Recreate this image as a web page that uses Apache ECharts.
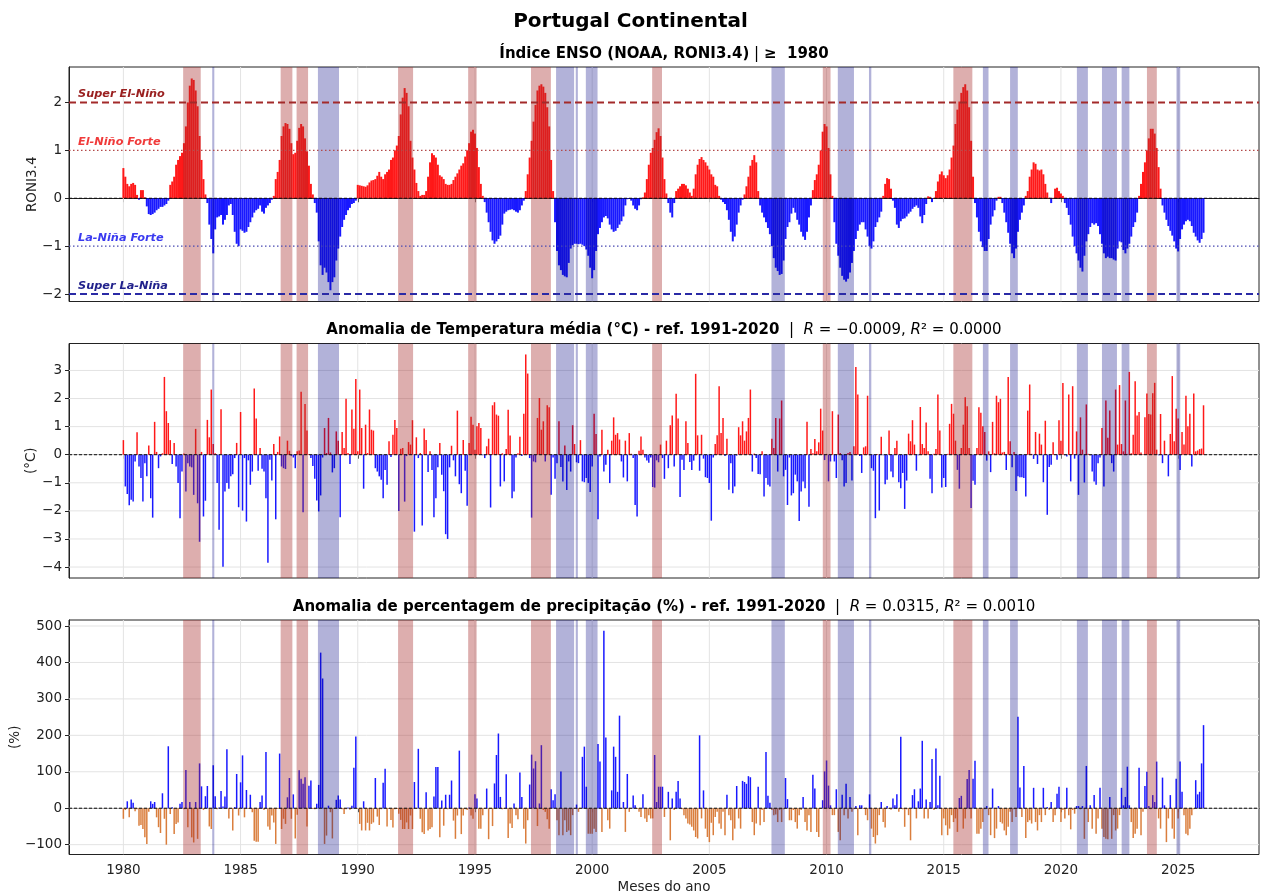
<!DOCTYPE html>
<html>
<head>
<meta charset="utf-8">
<title>Portugal Continental</title>
<script src="https://cdn.jsdelivr.net/npm/echarts@6/dist/echarts.min.js"></script>
<style>
  html, body { margin: 0; padding: 0; background: #fff; }
  #chart { width: 1261px; height: 893px; }
</style>
</head>
<body>
<div id="chart"></div>
<script>
// monthly series, Jan 1980 .. Feb 2026
const startYear = 1980

const roni = [
  /*1980*/ 0.63,0.45,0.3,0.25,0.3,0.32,0.28,0.07,-0.03,0.17,0.17,0.02,
  /*1981*/ -0.17,-0.33,-0.35,-0.33,-0.3,-0.25,-0.22,-0.18,-0.18,-0.15,-0.12,-0.05,
  /*1982*/ 0.28,0.35,0.45,0.7,0.8,0.88,0.95,1.15,1.5,2.0,2.35,2.5,
  /*1983*/ 2.47,2.25,1.92,1.3,0.8,0.4,0.08,-0.1,-0.55,-0.85,-1.15,-0.65,
  /*1984*/ -0.4,-0.38,-0.35,-0.55,-0.45,-0.35,-0.15,-0.12,-0.35,-0.7,-0.95,-1.0,
  /*1985*/ -0.65,-0.68,-0.72,-0.7,-0.6,-0.5,-0.4,-0.3,-0.25,-0.22,-0.15,-0.28,
  /*1986*/ -0.32,-0.2,-0.15,-0.1,-0.03,0.05,0.4,0.55,0.8,1.3,1.5,1.57,
  /*1987*/ 1.55,1.45,1.15,0.92,0.95,1.2,1.47,1.55,1.5,1.25,0.98,0.68,
  /*1988*/ 0.3,0.08,-0.1,-0.3,-0.9,-1.4,-1.6,-1.45,-1.55,-1.75,-1.92,-1.75,
  /*1989*/ -1.65,-1.3,-1.05,-0.8,-0.6,-0.45,-0.35,-0.25,-0.2,-0.12,-0.1,-0.05,
  /*1990*/ 0.28,0.27,0.26,0.25,0.24,0.27,0.33,0.37,0.38,0.4,0.47,0.55,
  /*1991*/ 0.45,0.4,0.5,0.55,0.6,0.8,0.85,1.0,1.1,1.3,1.75,2.1,
  /*1992*/ 2.3,2.2,1.92,1.2,0.85,0.6,0.32,0.15,0.05,0.07,0.07,0.15,
  /*1993*/ 0.45,0.75,0.94,0.9,0.85,0.7,0.48,0.45,0.4,0.3,0.28,0.28,
  /*1994*/ 0.3,0.38,0.45,0.52,0.6,0.68,0.73,0.87,1.0,1.15,1.39,1.43,
  /*1995*/ 1.35,1.05,0.65,0.3,0.05,-0.08,-0.3,-0.5,-0.7,-0.88,-0.95,-0.9,
  /*1996*/ -0.85,-0.78,-0.55,-0.32,-0.28,-0.25,-0.24,-0.23,-0.25,-0.28,-0.3,-0.25,
  /*1997*/ -0.15,-0.05,0.15,0.5,0.85,1.2,1.6,1.95,2.25,2.35,2.38,2.33,
  /*1998*/ 2.2,1.9,1.5,0.8,0.15,-0.5,-1.1,-1.4,-1.5,-1.6,-1.63,-1.65,
  /*1999*/ -1.35,-1.05,-0.98,-0.95,-0.95,-0.96,-0.95,-0.97,-1.0,-1.07,-1.2,-1.45,
  /*2000*/ -1.67,-1.5,-1.1,-0.75,-0.62,-0.5,-0.4,-0.37,-0.42,-0.55,-0.65,-0.7,
  /*2001*/ -0.68,-0.62,-0.55,-0.48,-0.38,-0.15,-0.02,-0.01,-0.05,-0.15,-0.22,-0.25,
  /*2002*/ -0.15,-0.02,0.02,0.12,0.4,0.7,0.95,1.05,1.22,1.38,1.46,1.3,
  /*2003*/ 0.85,0.4,0.1,-0.1,-0.3,-0.4,-0.1,0.15,0.2,0.25,0.3,0.3,
  /*2004*/ 0.27,0.2,0.12,0.05,0.2,0.5,0.7,0.82,0.86,0.8,0.75,0.68,
  /*2005*/ 0.6,0.5,0.45,0.28,0.25,0.05,-0.03,-0.08,-0.12,-0.25,-0.45,-0.7,
  /*2006*/ -0.9,-0.8,-0.55,-0.3,-0.15,-0.03,0.08,0.25,0.45,0.68,0.8,0.9,
  /*2007*/ 0.75,0.15,-0.15,-0.3,-0.4,-0.5,-0.62,-0.75,-1.0,-1.25,-1.45,-1.52,
  /*2008*/ -1.6,-1.58,-1.3,-0.85,-0.6,-0.5,-0.32,-0.2,-0.3,-0.45,-0.55,-0.7,
  /*2009*/ -0.8,-0.87,-0.7,-0.4,-0.15,0.17,0.38,0.5,0.7,1.0,1.39,1.55,
  /*2010*/ 1.5,1.05,0.5,0.05,-0.5,-0.95,-1.2,-1.45,-1.62,-1.7,-1.74,-1.68,
  /*2011*/ -1.55,-1.35,-1.1,-0.85,-0.68,-0.55,-0.5,-0.5,-0.65,-0.8,-1.0,-1.05,
  /*2012*/ -0.9,-0.6,-0.5,-0.4,-0.28,0.05,0.3,0.42,0.4,0.2,-0.05,-0.2,
  /*2013*/ -0.55,-0.62,-0.48,-0.43,-0.42,-0.38,-0.32,-0.28,-0.22,-0.18,-0.15,-0.2,
  /*2014*/ -0.38,-0.52,-0.35,-0.12,0.04,0.03,-0.08,0.01,0.15,0.35,0.5,0.56,
  /*2015*/ 0.48,0.42,0.48,0.6,0.85,1.1,1.55,1.85,2.02,2.2,2.32,2.38,
  /*2016*/ 2.25,1.9,1.2,0.45,-0.1,-0.4,-0.7,-0.9,-1.02,-1.1,-1.1,-0.85,
  /*2017*/ -0.55,-0.38,-0.25,-0.05,0.03,0.03,-0.1,-0.3,-0.5,-0.72,-0.95,-1.15,
  /*2018*/ -1.25,-1.05,-0.7,-0.45,-0.3,-0.15,0.05,0.15,0.45,0.6,0.75,0.72,
  /*2019*/ 0.6,0.58,0.6,0.5,0.3,0.12,0.01,-0.1,0.01,0.2,0.22,0.15,
  /*2020*/ 0.1,0.05,-0.1,-0.2,-0.35,-0.55,-0.8,-1.0,-1.15,-1.3,-1.45,-1.53,
  /*2021*/ -1.2,-0.9,-0.75,-0.6,-0.52,-0.55,-0.52,-0.58,-0.75,-0.95,-1.15,-1.25,
  /*2022*/ -1.22,-1.25,-1.25,-1.28,-1.3,-1.05,-0.9,-0.92,-1.08,-1.15,-1.05,-0.95,
  /*2023*/ -0.8,-0.6,-0.5,-0.3,0.05,0.3,0.55,0.75,1.0,1.25,1.45,1.45,
  /*2024*/ 1.35,1.05,0.65,0.2,-0.15,-0.3,-0.45,-0.58,-0.68,-0.78,-0.9,-1.05,
  /*2025*/ -1.11,-0.85,-0.65,-0.55,-0.48,-0.45,-0.48,-0.58,-0.72,-0.8,-0.88,-0.93,
  /*2026*/ -0.85,-0.72
]

const tempAnom = [
  /*1980*/ 0.52,-1.13,-1.4,-1.8,-1.6,-1.67,-0.24,0.8,-0.42,-0.83,-1.67,-0.3,
  /*1981*/ -0.77,0.33,-1.55,-2.24,1.17,0.1,-0.48,-0.06,0.05,2.77,1.55,1.13,
  /*1982*/ 0.52,-0.33,0.42,-0.42,-1.01,-2.26,-0.6,0.04,-1.31,-0.3,-0.42,-0.45,
  /*1983*/ -1.43,0.92,-1.73,-3.1,0.1,-2.2,-1.64,1.24,0.62,2.32,0.38,0.05,
  /*1984*/ -1.01,-2.67,1.62,-3.99,-1.31,-1.01,-1.21,-0.77,-0.7,-0.12,0.42,-1.87,
  /*1985*/ 1.52,-1.99,-0.12,-2.38,-0.2,-1.07,-0.6,2.36,1.29,-0.57,0.24,-0.5,
  /*1986*/ -0.6,-1.55,-3.85,-0.18,-0.92,0.38,-2.3,0.1,0.65,-0.42,-0.48,-0.51,
  /*1987*/ 0.5,0.14,-0.05,-0.1,-0.48,0.12,0.15,2.24,-2.05,1.81,0.86,0.02,
  /*1988*/ -0.12,-0.4,-0.86,-1.63,-2.02,-1.45,-0.1,0.95,0.06,1.31,0.08,-0.63,
  /*1989*/ -0.48,0.83,0.5,-2.23,0.81,0.24,1.99,0.06,-0.33,1.61,0.92,2.7,
  /*1990*/ 0.12,2.32,0.95,-1.21,1.07,0.06,1.61,0.89,0.86,-0.48,-0.6,-0.77,
  /*1991*/ -0.89,-1.55,-0.54,-1.07,0.48,-0.08,0.71,1.24,0.95,-2.0,0.21,0.24,
  /*1992*/ -1.67,-0.05,0.45,0.36,1.23,-2.74,0.62,-0.12,0.06,-2.52,0.93,0.52,
  /*1993*/ -0.62,0.12,-0.54,-2.23,-1.55,-0.45,0.42,-0.71,-1.3,-2.83,-3.0,-0.45,
  /*1994*/ 0.32,-0.2,-0.77,1.57,-1.05,-1.37,0.52,-0.57,-1.82,0.42,1.35,1.07,
  /*1995*/ 0.18,1.01,1.13,0.95,-0.02,-0.12,0.3,0.57,-1.88,1.76,1.87,1.43,
  /*1996*/ 1.39,-1.13,0.05,-0.95,0.2,1.6,0.68,-1.55,-1.31,-0.1,0.05,0.64,
  /*1997*/ -0.05,1.46,3.57,2.89,-0.12,-2.24,-0.24,-0.27,1.31,2.02,0.89,1.19,
  /*1998*/ -0.24,1.76,1.69,-1.43,-0.1,-0.86,-0.3,1.19,-0.44,-0.95,0.33,-1.26,
  /*1999*/ -0.24,-0.6,1.05,0.38,-0.27,-0.3,0.52,-0.95,-0.98,-0.83,-1.01,-1.33,
  /*2000*/ -0.42,1.46,0.74,-2.3,-0.06,0.89,-0.6,-0.36,0.18,-1.01,0.5,1.33,
  /*2001*/ 0.71,0.77,0.54,-0.24,-0.81,0.5,-0.95,0.77,0.03,-0.12,-1.79,-2.2,
  /*2002*/ 0.14,0.65,0.18,-0.1,-0.21,-0.29,-0.1,-1.15,-1.17,-0.2,-0.27,0.36,
  /*2003*/ -0.12,-0.86,0.5,-0.48,1.05,1.4,-0.42,2.17,1.29,-1.51,-0.18,-0.54,
  /*2004*/ 1.19,0.42,-0.26,-0.54,-0.21,2.88,0.69,-0.57,0.71,-0.14,-0.8,-0.83,
  /*2005*/ -1.01,-2.35,-0.1,0.38,0.69,2.44,0.77,1.31,-0.05,0.57,-1.25,-0.3,
  /*2006*/ -1.37,-1.13,-0.03,0.98,0.69,1.19,0.5,0.83,1.31,2.32,-0.6,0.04,
  /*2007*/ -0.12,-0.69,-0.7,0.12,-1.49,-0.83,-1.07,-1.13,0.57,0.24,1.31,-0.6,
  /*2008*/ 1.29,1.93,-0.77,-0.54,-1.79,-0.1,-1.45,-1.37,-0.71,-0.95,-2.36,-1.31,
  /*2009*/ -0.95,-1.19,1.17,-1.85,0.2,0.05,0.56,0.12,0.44,1.64,0.86,-0.19,
  /*2010*/ 0.03,-0.95,-0.24,1.55,-0.24,-0.83,1.43,0.06,-0.2,-1.13,-1.01,0.06,
  /*2011*/ 0.1,-0.92,0.3,3.12,2.14,-0.05,-0.65,0.26,0.3,2.1,-0.02,-0.48,
  /*2012*/ -0.57,-2.26,0.02,-1.99,0.64,-0.02,-1.05,-0.89,0.86,-0.6,-0.8,0.24,
  /*2013*/ 0.5,-0.98,-1.19,-0.65,-1.93,-0.92,0.75,0.48,1.23,0.36,-0.57,-0.02,
  /*2014*/ 1.7,0.38,0.24,1.15,0.12,-0.86,-1.37,0.03,0.2,2.14,0.86,-1.17,
  /*2015*/ -0.83,-1.15,0.03,1.1,1.81,1.46,0.5,-0.54,-1.21,0.24,1.07,2.05,
  /*2016*/ 1.73,0.24,-1.9,-0.93,-1.07,0.24,1.69,1.49,1.01,0.81,-0.21,0.12,
  /*2017*/ -0.62,1.17,0.05,2.1,1.87,1.99,0.08,0.1,-0.54,2.77,0.48,-0.45,
  /*2018*/ 0.1,-1.29,-0.77,-0.8,-0.8,-0.83,-1.49,1.57,2.5,0.03,-0.15,0.81,
  /*2019*/ -0.33,0.75,0.36,-0.98,1.21,-2.14,-0.44,-0.36,0.44,0.02,-0.18,1.23,
  /*2020*/ 0.5,2.55,-0.02,-0.06,2.14,-0.95,2.44,-0.14,0.83,-1.43,1.33,0.18,
  /*2021*/ -0.99,1.79,0.03,-0.02,-0.6,-0.95,-1.07,-0.3,-0.1,0.95,-1.13,1.93,
  /*2022*/ 0.6,1.57,-0.3,-0.6,2.32,0.36,2.48,0.38,0.12,1.93,0.03,2.95,
  /*2023*/ 0.05,0.71,2.62,1.4,1.52,0.08,0.02,1.33,2.18,1.45,1.43,2.19,
  /*2024*/ 2.56,0.18,-0.02,1.45,-0.3,0.5,0.02,-0.77,0.74,2.8,0.48,1.64,
  /*2025*/ 1.29,-0.54,0.81,0.36,2.1,1.01,1.46,-0.42,2.18,0.12,0.15,0.2,
  /*2026*/ 0.22,1.76
]

const precAnom = [
  /*1980*/ -29,-5,19,-25,24,15,-8,-3,-48,-46,-57,-80,
  /*1981*/ -98,-10,19,12,17,-25,-52,-68,41,-29,-100,170,
  /*1982*/ -16,3,-71,-43,-39,12,17,-3,105,-52,17,-80,
  /*1983*/ -94,17,-84,123,60,-5,33,61,-50,-57,118,33,
  /*1984*/ -3,2,47,5,32,162,-28,-2,-61,3,94,-20,
  /*1985*/ 71,145,-25,50,-2,37,-11,-89,-92,-92,17,35,
  /*1986*/ -5,154,-50,-59,-20,-39,-98,-2,150,-57,-29,-43,
  /*1987*/ 30,83,-29,38,-83,-18,104,81,67,85,-50,62,
  /*1988*/ 76,-2,-3,12,64,427,356,-98,-75,7,-11,-83,
  /*1989*/ -2,23,35,24,-3,-16,-3,2,-4,7,111,197,
  /*1990*/ -2,-43,-61,19,-61,-40,-61,-43,-39,83,-23,-46,
  /*1991*/ -3,70,108,-50,-2,-32,-53,-3,-2,-15,-32,-57,
  /*1992*/ -57,-39,-57,-20,-57,72,-2,163,-29,-66,-71,44,
  /*1993*/ -61,-57,-52,32,113,113,-80,21,-48,37,-3,37,
  /*1994*/ 76,-34,-84,-20,158,-71,-20,-3,-5,2,-20,-29,
  /*1995*/ 38,27,-56,-56,-19,-2,54,-85,-2,-49,68,146,
  /*1996*/ 205,31,-3,-2,93,-82,-42,-54,13,-19,-30,98,
  /*1997*/ 31,-56,-97,-33,65,147,109,129,-49,13,173,-5,
  /*1998*/ -10,-30,-56,52,22,38,-33,-74,101,-74,-33,-65,
  /*1999*/ -61,-74,-19,-2,10,-10,-2,141,169,59,-70,-70,
  /*2000*/ -70,-56,-65,176,128,-65,487,194,-33,-56,49,169,
  /*2001*/ 141,45,254,-2,17,-65,94,-10,-2,35,8,-2,
  /*2002*/ -10,-24,38,-28,-38,-19,-28,-28,146,17,59,59,
  /*2003*/ 59,-24,-2,45,-88,27,-5,45,75,27,-3,-19,
  /*2004*/ -28,-42,-45,-51,-61,-79,-83,200,-28,49,-56,-79,
  /*2005*/ -93,-40,-74,-24,-10,-42,-56,-10,-74,37,-19,-33,
  /*2006*/ -88,-56,61,-28,-56,75,72,67,88,85,-38,-74,
  /*2007*/ -42,59,-47,-5,-38,154,34,15,-5,-19,-17,-38,
  /*2008*/ -5,-38,-3,83,25,-33,-33,-5,-38,-56,-19,-5,
  /*2009*/ 31,-38,-61,-19,-65,92,54,-65,-79,-2,22,101,
  /*2010*/ 131,62,8,-19,-19,52,-65,-88,37,-19,67,-28,
  /*2011*/ 31,-10,-3,6,-74,8,8,-2,-19,-33,38,-56,
  /*2012*/ -79,-97,-74,-19,17,-38,-53,6,-2,-4,27,8,
  /*2013*/ 38,-10,196,-3,-51,-3,-19,-88,36,52,-28,19,
  /*2014*/ 54,185,-28,24,-28,17,135,-5,164,8,89,-74,
  /*2015*/ -28,-47,-74,-56,-19,-38,-28,-65,28,34,-56,-28,
  /*2016*/ 80,105,-28,81,130,-70,-70,-56,-38,-3,6,-19,
  /*2017*/ -74,54,-82,-56,6,-38,-42,-61,-74,-51,-10,-38,
  /*2018*/ -3,-24,251,57,-24,116,-82,-38,-33,-42,56,-38,
  /*2019*/ -61,-19,-38,56,-19,3,-5,17,-38,-19,40,59,
  /*2020*/ -38,-5,-28,56,-19,-58,-5,-15,6,6,-3,6,
  /*2021*/ -84,116,-38,8,-56,36,-70,-28,56,-56,-79,-84,
  /*2022*/ -85,31,-84,-19,-61,-56,-19,56,8,31,114,8,
  /*2023*/ -38,-82,-70,-56,111,-74,-10,61,100,6,-3,36,
  /*2024*/ 17,128,-28,-56,84,8,-93,-28,36,-56,-84,81,
  /*2025*/ -28,128,45,-19,-70,-74,-56,-19,-3,77,38,45,
  /*2026*/ 123,228
]

// strong-event periods (decimal years)
const elNinoBands = [
  [1982.55, 1983.30], [1986.71, 1987.21], [1987.39, 1987.88], [1991.72, 1992.36],
  [1994.71, 1995.07], [1997.39, 1998.24], [2002.56, 2002.98], [2009.84, 2010.17],
  [2015.41, 2016.22], [2023.67, 2024.09]
]
const laNinaBands = [
  [1983.79, 1983.88], [1988.30, 1989.20], [1998.46, 1999.23], [1999.30, 1999.39],
  [1999.73, 2000.23], [2007.65, 2008.22], [2010.48, 2011.17], [2011.81, 2011.91],
  [2016.67, 2016.91], [2017.83, 2018.16], [2020.68, 2021.15], [2021.75, 2022.39],
  [2022.59, 2022.92], [2024.93, 2025.09]
]

const ensoLevels = [2, 1, -1, -2]
const ensoLevelNames = ['Super El-Niño', 'El-Niño Forte', 'La-Niña Forte', 'Super La-Niña']

const yearTicks = [1980, 1985, 1990, 1995, 2000, 2005, 2010, 2015, 2020, 2025]
const roniTicks = [-2, -1, 0, 1, 2]
const tempTicks = [-4, -3, -2, -1, 0, 1, 2, 3]
const precTicks = [-100, 0, 100, 200, 300, 400, 500]

const FONT = 'DejaVu Sans'
const monthX = roni.map((_, i) => startYear + i / 12)
const pairs = (vals) => vals.map((v, i) => [monthX[i], v])

const levelStyles = [
  { stroke: '#a32a2a', text: '#9a2020', width: 2, dash: [7, 4] },
  { stroke: '#b34a4a', text: '#f03a3a', width: 1.2, dash: [1.5, 2.5] },
  { stroke: '#4a4ab3', text: '#3a3af0', width: 1.2, dash: [1.5, 2.5] },
  { stroke: '#2a2aa6', text: '#22228c', width: 2, dash: [7, 4] },
]

const minus = (v) => (v < 0 ? '\u2212' + Math.abs(v) : String(v))

const gridTops = [67, 343.5, 620]
const grids = gridTops.map((top) => ({
  left: 69, right: 2, top, height: 234.5,
  containLabel: false, outerBoundsMode: 'none',
  show: true, borderColor: '#222', borderWidth: 1, backgroundColor: 'transparent',
}))

const xAxes = [0, 1, 2].map((i) => ({
  type: 'value', gridIndex: i, min: 1977.68, max: 2028.45,
  axisLine: { show: true, lineStyle: { color: '#222' } },
  axisTick: { show: true, customValues: yearTicks, length: 4, lineStyle: { color: '#222' } },
  axisLabel: {
    show: i === 2, customValues: yearTicks, margin: 9, formatter: (v) => String(v),
    fontFamily: FONT, fontSize: 13.5, color: '#222',
  },
  splitLine: { show: false },
  name: i === 2 ? 'Meses do ano' : '',
  nameLocation: 'middle', nameGap: 26, nameMoveOverlap: false,
  nameTextStyle: { fontFamily: FONT, fontSize: 13.5, color: '#222' },
}))

const yAxisDefs = [
  { min: -2.155, max: 2.74, ticks: roniTicks, name: 'RONI3.4', gap: 30 },
  { min: -4.39, max: 3.96, ticks: tempTicks, name: '(°C)', gap: 31 },
  { min: -127, max: 516.5, ticks: precTicks, name: '(%)', gap: 47 },
]
const yAxes = yAxisDefs.map((d, i) => ({
  type: 'value', gridIndex: i, min: d.min, max: d.max,
  axisLine: { show: true, lineStyle: { color: '#222' } },
  axisTick: { show: true, customValues: d.ticks, length: 4, lineStyle: { color: '#222' } },
  axisLabel: {
    customValues: d.ticks, margin: 7, formatter: minus,
    fontFamily: FONT, fontSize: 13.5, color: '#222',
  },
  splitLine: { show: false },
  name: d.name, nameLocation: 'middle', nameRotate: 90, nameGap: d.gap, nameMoveOverlap: false,
  nameTextStyle: { fontFamily: FONT, fontSize: 13.5, color: '#222' },
}))

function vGridSeries(i) {
  return {
    type: 'custom', xAxisIndex: i, yAxisIndex: i, z: 1, silent: true, clip: true,
    data: yearTicks,
    renderItem(params, api) {
      const cs = params.coordSys
      const x = api.coord([api.value(0), 0])[0]
      return { type: 'line', shape: { x1: x, y1: cs.y, x2: x, y2: cs.y + cs.height },
        style: { stroke: '#e3e3e3', lineWidth: 1 } }
    },
  }
}

function hGridSeries(i, ticks) {
  return {
    type: 'custom', xAxisIndex: i, yAxisIndex: i, z: 1, silent: true, clip: true,
    data: ticks,
    renderItem(params, api) {
      const cs = params.coordSys
      const y = api.coord([2000, api.value(0)])[1]
      return { type: 'line', shape: { x1: cs.x, y1: y, x2: cs.x + cs.width, y2: y },
        style: { stroke: '#e3e3e3', lineWidth: 1 } }
    },
  }
}

function barSeries(i, vals, pos, neg, width) {
  return {
    type: 'bar', xAxisIndex: i, yAxisIndex: i, z: 2, silent: true,
    barWidth: width, data: pairs(vals),
    itemStyle: { color: (p) => (p.value[1] >= 0 ? pos : neg) },
  }
}

function bandSeries(i, bands, color) {
  return {
    type: 'custom', xAxisIndex: i, yAxisIndex: i, z: 3, silent: true, clip: true,
    data: bands,
    renderItem(params, api) {
      const cs = params.coordSys
      const x0 = api.coord([api.value(0), 0])[0]
      const x1 = api.coord([api.value(1), 0])[0]
      return { type: 'rect', shape: { x: x0, y: cs.y, width: Math.max(x1 - x0, 1.5), height: cs.height },
        style: { fill: color } }
    },
  }
}

function zeroLineSeries(i) {
  return {
    type: 'custom', xAxisIndex: i, yAxisIndex: i, z: 4, silent: true, clip: true,
    data: [0],
    renderItem(params, api) {
      const cs = params.coordSys
      const y = api.coord([2000, api.value(0)])[1]
      return { type: 'line', shape: { x1: cs.x, y1: y, x2: cs.x + cs.width, y2: y },
        style: { stroke: '#111', lineWidth: 1, lineDash: [3, 2] } }
    },
  }
}

const levelSeries = {
  type: 'custom', xAxisIndex: 0, yAxisIndex: 0, z: 4, silent: true, clip: true,
  data: ensoLevels,
  renderItem(params, api) {
    const cs = params.coordSys
    const st = levelStyles[params.dataIndex]
    const y = api.coord([2000, api.value(0)])[1]
    return {
      type: 'group',
      children: [
        { type: 'line', shape: { x1: cs.x, y1: y, x2: cs.x + cs.width, y2: y },
          style: { stroke: st.stroke, lineWidth: st.width, lineDash: st.dash } },
        { type: 'text', x: cs.x + 9, y: y - 2.5,
          style: { text: ensoLevelNames[params.dataIndex], fill: st.text,
            font: 'italic bold 11.3px "DejaVu Sans"', align: 'left', verticalAlign: 'bottom' } },
      ],
    }
  },
}

const elColor = 'rgba(165, 42, 42, 0.38)'
const laColor = 'rgba(0, 0, 128, 0.30)'
const red = 'rgba(255, 0, 0, 0.9)'
const blue = 'rgba(0, 0, 255, 0.9)'
const orange = 'rgba(214, 112, 40, 0.9)'

const series = [
  vGridSeries(0), vGridSeries(1), vGridSeries(2),
  hGridSeries(1, tempTicks), hGridSeries(2, precTicks),
  barSeries(0, roni, red, blue, 2),
  barSeries(1, tempAnom, red, blue, 1.5),
  barSeries(2, precAnom, blue, orange, 1.5),
]
for (const i of [0, 1, 2]) {
  series.push(bandSeries(i, elNinoBands, elColor))
  series.push(bandSeries(i, laNinaBands, laColor))
  series.push(zeroLineSeries(i))
}
series.push(levelSeries)

const subRich = {
  b: { fontFamily: FONT, fontSize: 15, fontWeight: 'bold', color: '#000', lineHeight: 18 },
  n: { fontFamily: FONT, fontSize: 15, fontWeight: 'normal', color: '#000', lineHeight: 18 },
  i: { fontFamily: FONT, fontSize: 15, fontWeight: 'normal', fontStyle: 'italic', color: '#000', lineHeight: 18 },
}
const subTitle = (text, top) => ({
  text, left: 664, top, textAlign: 'center', padding: 0,
  textStyle: { rich: subRich, fontFamily: FONT, fontSize: 15, fontWeight: 'bold', color: '#000', lineHeight: 18 },
})

const option = {
  animation: false,
  backgroundColor: '#fff',
  title: [
    { text: 'Portugal Continental', left: 'center', top: 10, padding: 0,
      textStyle: { fontFamily: FONT, fontSize: 20, fontWeight: 'bold', color: '#000', lineHeight: 24 } },
    subTitle('{b|Índice ENSO (NOAA, RONI3.4)}{n| | }{b|≥  1980}', 45),
    subTitle('{b|Anomalia de Temperatura média (°C) - ref. 1991-2020}{n|  |  }{i|R}{n| = \u22120.0009, }{i|R}{n|² = 0.0000}', 321),
    subTitle('{b|Anomalia de percentagem de precipitação (%) - ref. 1991-2020}{n|  |  }{i|R}{n| = 0.0315, }{i|R}{n|² = 0.0010}', 598),
  ],
  grid: grids,
  xAxis: xAxes,
  yAxis: yAxes,
  series,
}

const chart = echarts.init(document.getElementById('chart'), null, { renderer: 'canvas' })
chart.setOption(option)
</script>
</body>
</html>
